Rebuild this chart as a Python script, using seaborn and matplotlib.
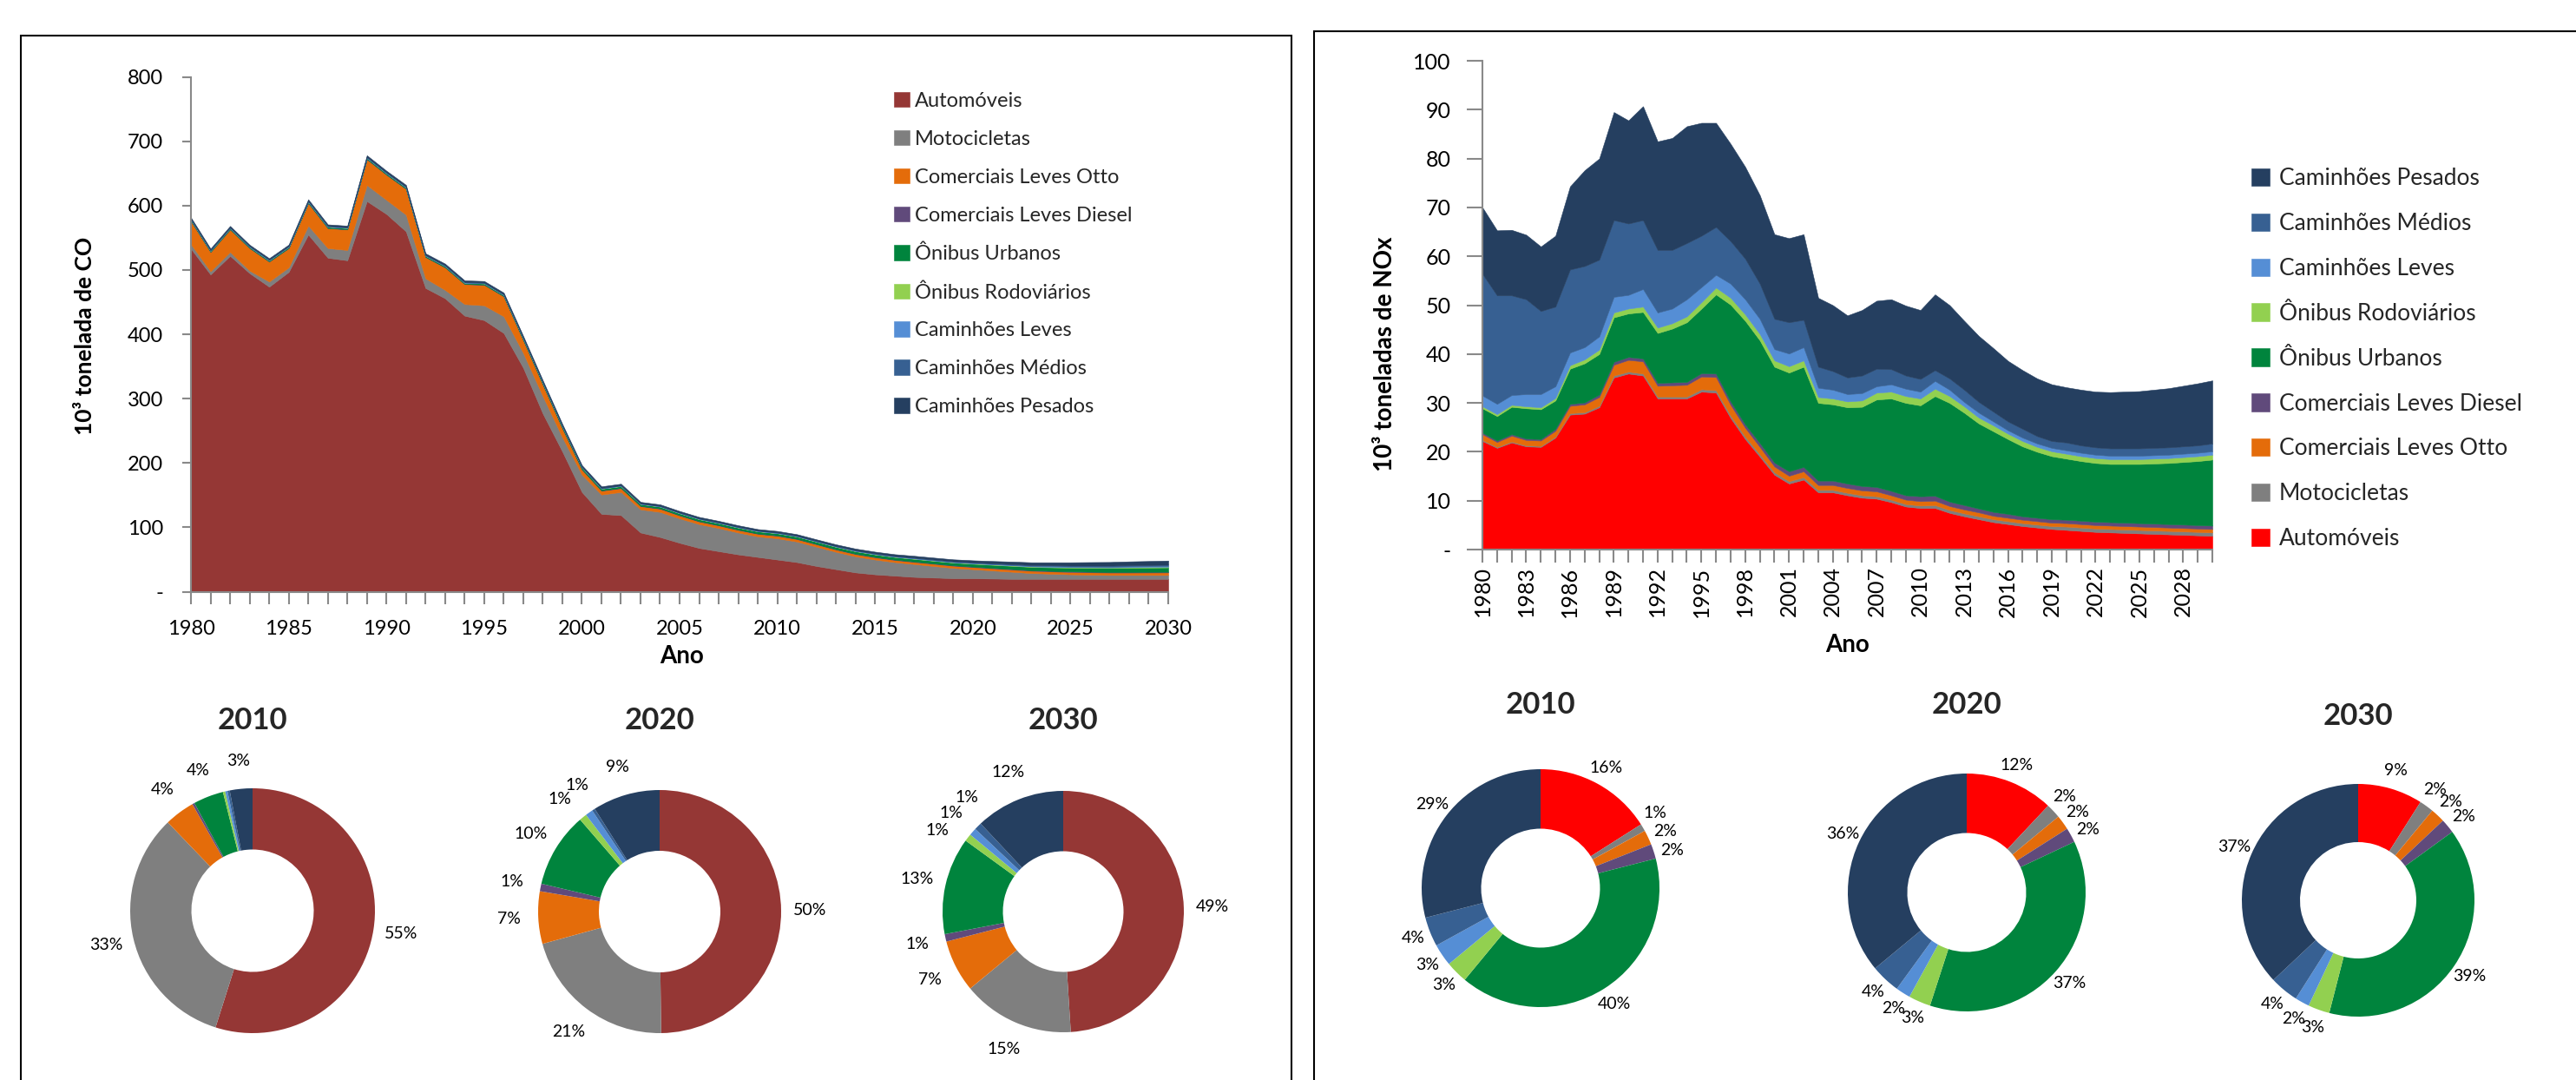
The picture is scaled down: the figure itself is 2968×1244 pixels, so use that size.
import numpy as np
import pandas as pd
import matplotlib
matplotlib.use("Agg")
import matplotlib.pyplot as plt
from matplotlib.patches import Rectangle
from matplotlib.ticker import FuncFormatter
import seaborn as sns

sns.set_theme(style="ticks")
plt.rcParams["font.family"] = ["Lato", "DejaVu Sans"]

anos = list(range(1980, 2031))
categorias = ["Automóveis", "Motocicletas", "Comerciais Leves Otto", "Comerciais Leves Diesel",
              "Ônibus Urbanos", "Ônibus Rodoviários", "Caminhões Leves", "Caminhões Médios",
              "Caminhões Pesados"]
cores_co = ["#953735", "#7f7f7f", "#e46c0a", "#604a7b", "#00843d", "#92d050", "#558ed5", "#376092", "#253f60"]
cores_nox = ["#ff0000"] + cores_co[1:]

# ---- CO (10^3 t) ----
co_auto = [533, 493, 522, 495, 474, 497, 555, 519, 515, 607,
           587, 560, 472, 456, 429, 422, 402, 348, 277, 218,
           155, 121, 119, 92, 85, 76, 68, 63, 58, 54,
           50, 46, 40, 35, 30, 27, 25, 23, 22, 21,
           21, 20.5, 20, 20, 20, 20, 20, 20, 20, 20, 20]
co_moto = [7, 5, 6, 4, 8, 7, 14, 15, 16, 25,
           22, 26, 15, 13, 18, 23, 26, 23, 27, 22,
           27, 30, 36, 36, 39, 38, 37, 36, 34, 32,
           33, 32, 30, 27, 25, 23, 21, 20, 18, 16,
           14, 12.5, 11, 9, 8, 7, 6.5, 6, 6, 6, 6]
co_clo = [36, 30, 35, 35, 31, 30, 35, 31, 32, 40,
          39, 40, 33, 35, 31, 32, 31, 20, 18, 14,
          8, 6, 6, 5, 5, 4.5, 4.2, 4, 4, 4,
          4, 3.8, 3.7, 3.6, 3.5, 3.5, 3.4, 3.4, 3.4, 3.4,
          3.4, 3.5, 3.5, 3.6, 3.6, 3.7, 3.7, 3.8, 3.8, 3.9, 4.0]
co_cld = [0.4, 0.4, 0.4, 0.4, 0.4, 0.4, 0.4, 0.4, 0.4, 0.5,
          0.5, 0.5, 0.4, 0.4, 0.4, 0.4, 0.4, 0.5, 0.5, 0.5,
          0.5, 0.5, 0.5, 0.5, 0.5, 0.5, 0.5, 0.5, 0.5, 0.5,
          0.5, 0.5, 0.5, 0.5, 0.6, 0.6, 0.6, 0.6, 0.6, 0.7,
          0.7, 0.7, 0.8, 0.8, 0.8, 0.9, 0.9, 0.9, 1.0, 1.0, 1.0]
co_ou = [1.5, 1.4, 1.5, 1.4, 1.4, 1.5, 1.6, 1.6, 1.6, 1.7,
         1.7, 1.7, 1.6, 1.6, 1.6, 1.6, 1.6, 2.0, 2.2, 2.4,
         2.5, 2.5, 2.6, 2.6, 2.7, 2.8, 2.9, 3.0, 3.1, 3.2,
         3.3, 3.4, 3.5, 3.6, 3.7, 3.8, 3.9, 4.0, 4.1, 4.2,
         4.3, 4.6, 4.9, 5.2, 5.5, 5.8, 6.0, 6.2, 6.4, 6.6, 6.8]
co_or = [0.2, 0.2, 0.2, 0.2, 0.2, 0.2, 0.2, 0.2, 0.2, 0.2,
         0.2, 0.2, 0.2, 0.2, 0.2, 0.2, 0.2, 0.3, 0.3, 0.3,
         0.3, 0.3, 0.3, 0.3, 0.3, 0.3, 0.3, 0.3, 0.3, 0.3,
         0.3, 0.3, 0.3, 0.4, 0.4, 0.4, 0.4, 0.5, 0.5, 0.5,
         0.6, 0.6, 0.7, 0.7, 0.8, 0.8, 0.9, 0.9, 1.0, 1.0, 1.0]
co_cl = [0.3, 0.3, 0.3, 0.3, 0.3, 0.3, 0.3, 0.3, 0.3, 0.3,
         0.3, 0.3, 0.3, 0.3, 0.3, 0.3, 0.3, 0.3, 0.3, 0.3,
         0.3, 0.3, 0.3, 0.3, 0.3, 0.4, 0.4, 0.4, 0.4, 0.4,
         0.4, 0.4, 0.4, 0.4, 0.5, 0.5, 0.5, 0.6, 0.6, 0.6,
         0.7, 0.7, 0.8, 0.8, 0.9, 0.9, 1.0, 1.0, 1.1, 1.1, 1.2]
co_cm = [0.9, 0.9, 0.9, 0.9, 0.9, 0.9, 1.0, 1.0, 1.0, 1.0,
         1.0, 1.0, 0.9, 0.9, 0.9, 0.9, 0.9, 0.8, 0.8, 0.8,
         0.8, 0.8, 0.8, 0.7, 0.7, 0.7, 0.7, 0.7, 0.7, 0.7,
         0.7, 0.7, 0.7, 0.7, 0.8, 0.8, 0.8, 0.9, 0.9, 0.9,
         1.0, 1.1, 1.2, 1.3, 1.4, 1.5, 1.6, 1.7, 1.8, 1.9, 2.0]
co_cp = [2.2, 2.0, 2.1, 2.0, 2.0, 2.1, 2.3, 2.3, 2.3, 2.5,
         2.5, 2.5, 2.4, 2.4, 2.4, 2.4, 2.4, 2.4, 2.4, 2.3,
         2.3, 2.3, 2.3, 2.2, 2.2, 2.2, 2.2, 2.2, 2.2, 2.2,
         2.2, 2.3, 2.3, 2.4, 2.5, 2.6, 2.7, 2.8, 2.9, 3.0,
         3.1, 3.5, 3.9, 4.3, 4.7, 5.1, 5.4, 5.7, 6.0, 6.2, 6.4]

# ---- NOx (10^3 t) ----
nox_auto = [22.2, 20.8, 21.9, 21.1, 21.0, 22.9, 27.6, 27.8, 29.1, 35.2,
            36.0, 35.6, 30.9, 30.9, 30.9, 32.3, 32.1, 26.9, 22.6, 19.0,
            15.3, 13.5, 14.3, 11.7, 11.7, 11.1, 10.6, 10.4, 9.7, 8.8,
            8.5, 8.5, 7.5, 6.8, 6.2, 5.6, 5.2, 4.8, 4.5, 4.2,
            4.0, 3.8, 3.6, 3.5, 3.4, 3.3, 3.2, 3.1, 3.0, 2.9, 2.8]
nox_moto = [0.2, 0.2, 0.2, 0.2, 0.2, 0.2, 0.3, 0.3, 0.3, 0.4,
            0.4, 0.4, 0.4, 0.4, 0.4, 0.5, 0.5, 0.5, 0.5, 0.5,
            0.5, 0.5, 0.5, 0.5, 0.5, 0.5, 0.5, 0.5, 0.5, 0.5,
            0.5, 0.6, 0.6, 0.6, 0.6, 0.6, 0.6, 0.6, 0.6, 0.6,
            0.7, 0.7, 0.7, 0.7, 0.7, 0.7, 0.7, 0.7, 0.7, 0.7, 0.7]
nox_clo = [1.2, 1.0, 1.2, 1.1, 1.1, 1.2, 1.5, 1.6, 1.8, 2.2,
           2.4, 2.5, 2.2, 2.3, 2.4, 2.6, 2.7, 2.2, 1.8, 1.5,
           1.2, 1.1, 1.2, 1.0, 1.0, 1.0, 1.0, 1.0, 0.9, 0.9,
           0.9, 0.9, 0.8, 0.8, 0.8, 0.7, 0.7, 0.7, 0.7, 0.7,
           0.7, 0.7, 0.7, 0.7, 0.7, 0.7, 0.7, 0.7, 0.7, 0.7, 0.7]
nox_cld = [0.3, 0.3, 0.3, 0.3, 0.3, 0.4, 0.4, 0.4, 0.5, 0.6,
           0.6, 0.6, 0.6, 0.6, 0.6, 0.7, 0.7, 0.7, 0.7, 0.8,
           0.8, 0.9, 0.9, 0.9, 0.9, 0.9, 0.9, 0.9, 0.9, 0.9,
           1.0, 1.0, 0.9, 0.9, 0.8, 0.8, 0.8, 0.7, 0.7, 0.7,
           0.7, 0.7, 0.7, 0.7, 0.7, 0.7, 0.7, 0.7, 0.7, 0.7, 0.7]
nox_ou = [5.0, 5.0, 5.6, 6.2, 6.1, 5.8, 7.2, 8.0, 8.3, 9.1,
          8.9, 9.5, 10.2, 11.0, 12.2, 13.2, 16.2, 19.8, 21.2, 21.0,
          19.6, 20.2, 20.5, 15.9, 15.6, 15.6, 16.2, 17.9, 18.9, 18.9,
          18.6, 20.4, 20.2, 18.9, 17.4, 16.5, 15.3, 14.3, 13.5, 12.9,
          12.5, 12.2, 12.0, 11.9, 12.0, 12.1, 12.3, 12.5, 12.8, 13.1, 13.5]
nox_or = [0.4, 0.4, 0.4, 0.4, 0.4, 0.5, 0.7, 0.8, 0.9, 1.0,
          1.0, 1.1, 1.1, 1.1, 1.2, 1.3, 1.4, 1.4, 1.3, 1.3,
          1.3, 1.3, 1.3, 1.2, 1.2, 1.2, 1.3, 1.4, 1.4, 1.4,
          1.4, 1.5, 1.4, 1.3, 1.2, 1.2, 1.1, 1.1, 1.0, 1.0,
          1.0, 1.0, 1.0, 1.0, 1.0, 1.0, 1.0, 1.0, 1.0, 1.0, 1.0]
nox_cl = [2.2, 2.1, 2.0, 2.5, 2.7, 2.4, 2.6, 2.5, 2.7, 3.2,
          2.8, 3.6, 3.1, 3.0, 3.5, 3.1, 2.6, 2.9, 3.1, 3.1,
          2.3, 2.6, 2.7, 1.9, 1.8, 1.5, 1.5, 1.3, 1.5, 1.5,
          1.4, 1.6, 1.3, 0.9, 1.0, 0.8, 0.7, 0.7, 0.7, 0.7,
          0.7, 0.7, 0.7, 0.7, 0.7, 0.7, 0.7, 0.7, 0.7, 0.7, 0.7]
nox_cm = [24.9, 22.2, 20.4, 19.4, 17.0, 16.3, 17.0, 16.6, 15.7, 15.7,
          14.6, 14.1, 12.8, 12.0, 11.5, 10.5, 9.8, 8.7, 8.3, 7.2,
          6.2, 6.4, 5.6, 4.3, 3.8, 3.4, 3.6, 3.6, 3.1, 2.7,
          2.6, 2.2, 2.3, 2.5, 2.2, 2.0, 1.8, 1.8, 1.5, 1.4,
          1.6, 1.5, 1.5, 1.5, 1.5, 1.5, 1.5, 1.5, 1.5, 1.5, 1.6]
nox_cp = [13.6, 13.3, 13.4, 13.2, 13.2, 14.5, 17.0, 19.6, 20.7, 22.1,
          21.1, 23.3, 22.2, 22.9, 23.9, 23.1, 21.3, 19.9, 18.8, 18.1,
          17.3, 17.2, 17.5, 14.1, 13.5, 12.7, 13.4, 13.9, 14.3, 14.3,
          14.1, 15.5, 15.0, 14.1, 13.5, 13.0, 12.4, 12.0, 11.8, 11.6,
          11.3, 11.4, 11.4, 11.5, 11.6, 11.7, 11.9, 12.1, 12.4, 12.7, 12.9]

# ---- participacao (%) por ano, mesma ordem das categorias ----
co_2010 = [55, 33, 4, 0.3, 4, 0.3, 0.3, 0.3, 3]
co_2020 = [50, 21, 7, 1, 10, 1, 1, 0.4, 9]
co_2030 = [49, 15, 7, 1, 13, 1, 1, 1, 12]
nox_2010 = [16, 1, 2, 2, 40, 3, 3, 4, 29]
nox_2020 = [12, 2, 2, 2, 37, 3, 2, 4, 36]
nox_2030 = [9, 2, 2, 2, 39, 3, 2, 4, 37]

df_co = pd.DataFrame(dict(zip(categorias, [co_auto, co_moto, co_clo, co_cld, co_ou,
                                           co_or, co_cl, co_cm, co_cp])), index=anos)
df_nox = pd.DataFrame(dict(zip(categorias, [nox_auto, nox_moto, nox_clo, nox_cld, nox_ou,
                                            nox_or, nox_cl, nox_cm, nox_cp])), index=anos)

W, H = 2968, 1244
fig = plt.figure(figsize=(W / 100, H / 100), dpi=100)
fig.patch.set_facecolor("white")

def px_rect(x0, y0, x1, y1):
    # pixel box (top-left origin) -> figure fraction
    return [x0 / W, 1 - y1 / H, (x1 - x0) / W, (y1 - y0) / H]

# panel frames
fig.patches.append(Rectangle((24 / W, -0.05), (1488 - 24) / W, 1.05 - 41 / H, transform=fig.transFigure,
                             fill=False, ec="black", lw=1.5))
fig.patches.append(Rectangle((1514 / W, -0.05), 1.0, 1.05 - 36 / H, transform=fig.transFigure,
                             fill=False, ec="black", lw=1.5))

def zero_dash(v, pos):
    return "-" if v == 0 else "%d" % v

def style_axes(ax):
    sns.despine(ax=ax)
    for s in ["left", "bottom"]:
        ax.spines[s].set_color("#898989")
        ax.spines[s].set_linewidth(1.5)
    ax.set_facecolor("white")

# ---------- CO area ----------
ax1 = fig.add_axes(px_rect(220, 88.6, 1346, 681.6))
polys1 = ax1.stackplot(df_co.index, df_co.T.values, labels=categorias, colors=cores_co,
                       linewidth=0.4, edgecolor="face")
ax1.set_xlim(1980, 2030)
ax1.set_ylim(0, 800)
ax1.set_yticks(range(0, 801, 100))
ax1.yaxis.set_major_formatter(FuncFormatter(zero_dash))
ax1.set_xticks(anos)
ax1.set_xticklabels([str(a) if a % 5 == 0 else "" for a in anos])
style_axes(ax1)
ax1.tick_params(axis="y", length=7, width=1.5, color="#898989", labelsize=17, pad=16, labelcolor="black")
ax1.tick_params(axis="x", length=10, width=1.5, color="#898989", labelsize=17, pad=13, labelcolor="black")
ax1.set_ylabel("10³ tonelada de CO", fontsize=19, fontweight="bold", color="black")
ax1.yaxis.set_label_coords(-0.098, 0.497)
ax1.set_xlabel("Ano", fontsize=20, fontweight="bold", color="black")
ax1.xaxis.set_label_coords(0.502, -0.103)
ax1.legend(handles=polys1, labels=categorias, loc="upper left", bbox_to_anchor=(1030 / W, 1 - 106 / H),
           bbox_transform=fig.transFigure, frameon=False, fontsize=17, labelspacing=0.97,
           handlelength=0.76, handleheight=0.76, handletextpad=0.25, borderpad=0, borderaxespad=0)

# ---------- NOx area ----------
ax2 = fig.add_axes(px_rect(1708, 70, 2549, 633))
polys2 = ax2.stackplot(df_nox.index, df_nox.T.values, labels=categorias, colors=cores_nox,
                       linewidth=0.4, edgecolor="face")
ax2.set_xlim(1980, 2030)
ax2.set_ylim(0, 100)
ax2.set_yticks(range(0, 101, 10))
ax2.yaxis.set_major_formatter(FuncFormatter(zero_dash))
ax2.set_xticks(anos)
ax2.set_xticklabels([str(a) if (a - 1980) % 3 == 0 else "" for a in anos], rotation=90)
style_axes(ax2)
ax2.tick_params(axis="y", length=13, width=1.5, color="#898989", labelsize=18, pad=13, labelcolor="black")
ax2.tick_params(axis="x", length=11, width=1.5, color="#898989", labelsize=18, pad=3, labelcolor="black")
ax2.set_ylabel("10³ toneladas de NOx", fontsize=20, fontweight="bold", color="black")
ax2.yaxis.set_label_coords(-0.118, 0.40)
ax2.set_xlabel("Ano", fontsize=20, fontweight="bold", color="black")
ax2.xaxis.set_label_coords(0.50, -0.172)
ax2.legend(handles=polys2[::-1], labels=categorias[::-1], loc="upper left",
           bbox_to_anchor=(2594 / W, 1 - 193 / H), bbox_transform=fig.transFigure, frameon=False,
           fontsize=19, labelspacing=1.02, handlelength=0.8, handleheight=0.8, handletextpad=0.4,
           borderpad=0, borderaxespad=0)

# ---------- donuts ----------
def donut(cx, cy, r, valores, cores, titulo, ty, raio_rot):
    ax = fig.add_axes(px_rect(cx - r, cy - r, cx + r, cy + r))
    ax.pie(valores, colors=cores, startangle=90, counterclock=False,
           wedgeprops=dict(width=0.5, linewidth=0))
    ax.set_xlim(-1, 1)
    ax.set_ylim(-1, 1)
    ax.set_aspect("equal")
    ax.axis("off")

    # percentage labels, spread apart a bit where slices are thin
    total = float(sum(valores))
    itens = []
    acum = 0.0
    for v in valores:
        meio = (acum + v / 2) / total * 360
        acum += v
        if round(v) >= 1:
            itens.append([meio, "%d%%" % round(v)])
    gap = 8.5
    for _ in range(300):
        mexeu = False
        for i in range(len(itens) - 1):
            d = itens[i + 1][0] - itens[i][0]
            if d < gap - 1e-6:
                s = (gap - d) / 2
                itens[i][0] -= s
                itens[i + 1][0] += s
                mexeu = True
        if not mexeu:
            break
    for ang, txt in itens:
        t = np.deg2rad(ang)
        ax.text(raio_rot * np.sin(t), raio_rot * np.cos(t), txt, ha="center", va="center",
                fontsize=14, color="black", clip_on=False)
    fig.text(cx / W, 1 - ty / H, titulo, ha="center", va="center", fontsize=25, fontweight="bold")

donut(291, 1049, 141, co_2010, cores_co, "2010", 830, 1.23)
donut(760, 1050, 140, co_2020, cores_co, "2020", 830, 1.24)
donut(1225, 1050, 139, co_2030, cores_co, "2030", 830, 1.24)
donut(1775, 1023, 137, nox_2010, cores_nox, "2010", 812, 1.15)
donut(2266, 1028, 137, nox_2020, cores_nox, "2020", 812, 1.15)
donut(2717, 1037, 134, nox_2030, cores_nox, "2030", 825, 1.16)

fig.savefig("out.png", dpi=100, facecolor="white")
